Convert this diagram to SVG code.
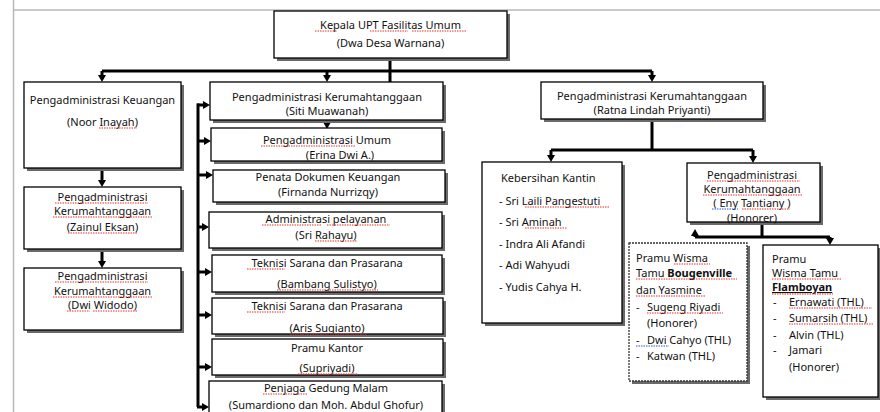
<svg xmlns="http://www.w3.org/2000/svg" width="880" height="412" viewBox="0 0 880 412">
<defs>
<marker id="ah" viewBox="0 0 7 8" refX="0" refY="4" markerWidth="7" markerHeight="8" markerUnits="userSpaceOnUse" orient="auto"><path d="M0,0 L7,4 L0,8 z" fill="#000"/></marker>
</defs>
<style>
.bx{fill:#fff;stroke:#000;stroke-width:1.3}
.dt{fill:#fff;stroke:#333;stroke-width:1.3;stroke-dasharray:2 1}
.sh{fill:#6a6a6a}
.c{fill:none;stroke:#000;stroke-width:3}
.a{fill:none;stroke:#000;stroke-width:3;marker-end:url(#ah)}
text{font-family:"Noto Sans","DejaVu Sans",sans-serif;font-size:11px;fill:#111}
.m{text-anchor:middle}
.b{font-weight:bold}
.sq{fill:none;stroke:#e8302a;stroke-width:1;stroke-dasharray:1.5 1}
.sb{fill:none;stroke:#3050e0;stroke-width:1;stroke-dasharray:1.5 1}
.fr{stroke:#b8b8b8;stroke-width:1.5}
</style>
<line class="fr" x1="13" y1="10" x2="880" y2="10"/>
<line class="fr" x1="13.5" y1="0" x2="13.5" y2="412"/>

<g id="connectors">
<path class="c" d="M390,58 V82"/>
<path class="c" d="M102,71 H652"/>
<path class="a" d="M102,71 V75"/>
<path class="a" d="M327,71 V75"/>
<path class="a" d="M652,71 V75"/>
<path class="a" d="M102,168 V180"/>
<path class="a" d="M102,249 V261"/>
<path class="a" d="M327,120 V122"/>
<path class="c" d="M198,103.5 V407"/>
<path class="a" d="M197,105 H203"/>
<path class="a" d="M197,141 H204"/>
<path class="a" d="M197,175 H206"/>
<path class="a" d="M197,227 H202"/>
<path class="a" d="M197,272 H205"/>
<path class="a" d="M197,315 H205"/>
<path class="a" d="M197,367 H205"/>
<path class="a" d="M197,407 H202"/>
<path class="c" d="M652,119 V150"/>
<path class="c" d="M551,150 H753"/>
<path class="a" d="M551,150 V155"/>
<path class="a" d="M753,150 V156"/>
<path class="c" d="M762,222 V237"/>
<path class="c" d="M695,237 H830"/>
<path class="a" d="M695,237 V236"/>
<path class="a" d="M830,237 V238"/>
</g>

<g id="n-kepala">
<rect class="sh" x="277" y="14" width="233" height="47"/>
<rect class="bx" x="274" y="11" width="233" height="47"/>
<text class="m" x="390.5" y="29">Kepala UPT Fasilitas Umum</text>
<text class="m" x="390.5" y="47">(Dwa Desa Warnana)</text>
</g>

<g id="n-keuangan">
<rect class="sh" x="27" y="85" width="157" height="86"/>
<rect class="bx" x="24" y="82" width="157" height="86"/>
<text class="m" x="102.5" y="104">Pengadministrasi Keuangan</text>
<text class="m" x="102.5" y="126">(Noor Inayah)</text>
</g>

<g id="n-zainul">
<rect class="sh" x="27" y="190" width="157" height="62"/>
<rect class="bx" x="24" y="187" width="157" height="62"/>
<text class="m" x="102.5" y="201">Pengadministrasi</text>
<text class="m" x="102.5" y="215">Kerumahtanggaan</text>
<text class="m" x="102.5" y="231">(Zainul Eksan)</text>
</g>

<g id="n-dwi">
<rect class="sh" x="27" y="271" width="157" height="62"/>
<rect class="bx" x="24" y="268" width="157" height="62"/>
<text class="m" x="102.5" y="280">Pengadministrasi</text>
<text class="m" x="102.5" y="295">Kerumahtanggaan</text>
<text class="m" x="102.5" y="309">(Dwi Widodo)</text>
</g>

<g id="n-siti">
<rect class="sh" x="213" y="85" width="233" height="38"/>
<rect class="bx" x="210" y="82" width="233" height="38"/>
<text class="m" x="327" y="101">Pengadministrasi Kerumahtanggaan</text>
<text class="m" x="327" y="115">(Siti Muawanah)</text>
</g>

<g id="n-erina">
<rect class="sh" x="214" y="131" width="231" height="33"/>
<rect class="bx" x="211" y="128" width="231" height="33"/>
<text class="m" x="327" y="144">Pengadministrasi Umum</text>
<text class="m" x="340" y="159">(Erina Dwi A.)</text>
</g>

<g id="n-firnanda">
<rect class="sh" x="216" y="173" width="232" height="32"/>
<rect class="bx" x="213" y="170" width="232" height="32"/>
<text class="m" x="328" y="181">Penata Dokumen Keuangan</text>
<text class="m" x="328" y="196">(Firnanda Nurrizqy)</text>
</g>

<g id="n-rahayu">
<rect class="sh" x="212" y="215" width="233" height="36"/>
<rect class="bx" x="209" y="212" width="233" height="36"/>
<text class="m" x="326" y="223">Administrasi pelayanan</text>
<text class="m" x="326" y="239">(Sri Rahayu)</text>
</g>

<g id="n-bambang">
<rect class="sh" x="215" y="258" width="230" height="37"/>
<rect class="bx" x="212" y="255" width="230" height="37"/>
<text class="m" x="327" y="267">Teknisi Sarana dan Prasarana</text>
<text class="m" x="327" y="288">(Bambang Sulistyo)</text>
</g>

<g id="n-aris">
<rect class="sh" x="215" y="301" width="231" height="36"/>
<rect class="bx" x="212" y="298" width="231" height="36"/>
<text class="m" x="327" y="310">Teknisi Sarana dan Prasarana</text>
<text class="m" x="327" y="332">(Aris Sugianto)</text>
</g>

<g id="n-supriyadi">
<rect class="sh" x="215" y="342" width="231" height="36"/>
<rect class="bx" x="212" y="339" width="231" height="36"/>
<text class="m" x="327" y="352">Pramu Kantor</text>
<text class="m" x="327" y="372">(Supriyadi)</text>
</g>

<g id="n-penjaga">
<rect class="sh" x="212" y="384" width="233" height="40"/>
<rect class="bx" x="209" y="381" width="233" height="40"/>
<text class="m" x="326" y="392">Penjaga Gedung Malam</text>
<text class="m" x="326" y="409">(Sumardiono dan Moh. Abdul Ghofur)</text>
</g>

<g id="n-ratna">
<rect class="sh" x="544" y="85" width="222" height="37"/>
<rect class="bx" x="541" y="82" width="222" height="37"/>
<text class="m" x="652" y="100">Pengadministrasi Kerumahtanggaan</text>
<text class="m" x="652" y="114">(Ratna Lindah Priyanti)</text>
</g>

<g id="n-kantin">
<rect class="sh" x="485" y="165" width="140" height="161"/>
<rect class="bx" x="482" y="162" width="140" height="161"/>
<text x="501" y="182">Kebersihan Kantin</text>
<text x="499" y="205">- Sri Laili Pangestuti</text>
<text x="499" y="226">- Sri Aminah</text>
<text x="499" y="248">- Indra Ali Afandi</text>
<text x="499" y="269">- Adi Wahyudi</text>
<text x="499" y="291">- Yudis Cahya H.</text>
</g>

<g id="n-eny">
<rect class="sh" x="690" y="166" width="133" height="59"/>
<rect class="bx" x="687" y="163" width="133" height="59"/>
<text class="m" x="752" y="179">Pengadministrasi</text>
<text class="m" x="752" y="193">Kerumahtanggaan</text>
<text class="m" x="752" y="207">( Eny Tantiany )</text>
<text class="m" x="752" y="222">(Honorer)</text>
</g>

<g id="n-bougenville">
<rect class="sh" x="632" y="246" width="118" height="138"/>
<rect class="dt" x="629" y="243" width="118" height="138"/>
<text x="636" y="262">Pramu Wisma</text>
<text x="636" y="277">Tamu <tspan class="b">Bougenville</tspan></text>
<text x="636" y="294">dan Yasmine</text>
<text x="636" y="311">-</text><text x="647" y="311">Sugeng Riyadi</text>
<text x="647" y="327">(Honorer)</text>
<text x="636" y="344">-</text><text x="647" y="344">Dwi Cahyo (THL)</text>
<text x="636" y="360">-</text><text x="647" y="360">Katwan (THL)</text>
</g>

<g id="n-flamboyan">
<rect class="sh" x="766" y="248" width="115" height="152"/>
<rect class="bx" x="763" y="245" width="115" height="152"/>
<text x="772" y="263">Pramu</text>
<text x="772" y="277">Wisma Tamu</text>
<text x="772" y="291" class="b" text-decoration="underline">Flamboyan</text>
<text x="773" y="306">-</text><text x="789" y="306">Ernawati (THL)</text>
<text x="773" y="322">-</text><text x="789" y="322">Sumarsih (THL)</text>
<text x="773" y="339">-</text><text x="789" y="339">Alvin (THL)</text>
<text x="773" y="354">-</text><text x="789" y="354">Jamari</text>
<text x="789" y="371">(Honorer)</text>
</g>

<g id="spellcheck">
<path class="sq" d="M315,31H337 M370,31H408 M412,31H466"/>
<path class="sq" d="M99,128H137"/>
<path class="sq" d="M55,203H148 M53,217H152 M68,233H138"/>
<path class="sq" d="M55,282H148 M53,297H152 M67,311H90 M93,311H137"/>
<path class="sq" d="M261,146H355"/>
<path class="sq" d="M262,225H322 M327,225H390 M315,241H357"/>
<path class="sq" d="M247,269H285 M277,290H378"/>
<path class="sq" d="M247,312H285 M290,334H367"/>
<path class="sq" d="M298,374H357"/>
<path class="sq" d="M263,394H307"/>
<path class="sq" d="M707,181H800 M703,195H803 M742,209H790"/>
<path class="sb" d="M712,209H738"/>
<path class="sq" d="M525,207H610 M525,228H567"/>
<path class="sq" d="M674,264H710 M636,279H737 M636,296H705 M647,313H723"/>
<path class="sb" d="M636,346H669"/>
<path class="sq" d="M772,279H842 M772,294H833 M789,308H872 M789,324H873"/>
</g>
</svg>
